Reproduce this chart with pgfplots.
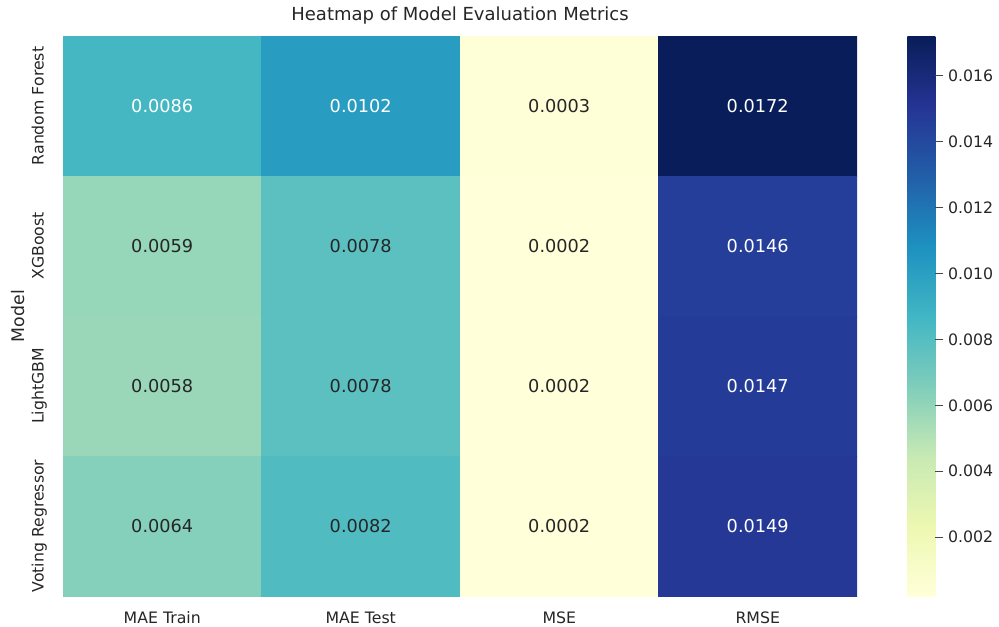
\documentclass[border=0pt]{standalone}
\usepackage{pgfplots}
\pgfplotsset{compat=1.18}
\usepackage{fontspec}
\setmainfont{DejaVu Sans}
\definecolor{txt}{HTML}{262626}
\begin{document}
\begin{tikzpicture}[x=1pt,y=1pt]
\useasboundingbox (0,0) rectangle (749.25,469.5);
\begin{axis}[
  at={(47.25pt,22.5pt)}, anchor=south west,
  width=595.5pt, height=420pt, scale only axis,
  xmin=-0.5, xmax=3.5, ymin=-0.5, ymax=3.5,
  y dir=reverse,
  axis line style={draw=none},
  xtick={0,1,2,3}, xticklabels={MAE Train, MAE Test, MSE, RMSE},
  ytick={0,1,2,3}, yticklabels={Random Forest, XGBoost, LightGBM, Voting Regressor},
  major tick length=0pt,
  tick label style={font=\fontsize{11.8}{14}\selectfont, text=txt},
  xticklabel style={anchor=base, yshift=-20.5pt},
  yticklabel style={xshift=-14.5pt, rotate=90, anchor=base},
  title={Heatmap of Model Evaluation Metrics},
  title style={font=\fontsize{13.5}{16}\selectfont, text=txt, at={(axis description cs:0.5,1)}, anchor=base, yshift=5.8pt},
  ylabel={Model},
  ylabel style={font=\fontsize{13}{16}\selectfont, text=txt, at={(axis description cs:-0.0479,0.5)}, anchor=base},
  colormap={ylgnbu}{rgb255=(255,255,217) rgb255=(237,248,177) rgb255=(199,233,180) rgb255=(127,205,187) rgb255=(65,182,196) rgb255=(29,145,192) rgb255=(34,94,168) rgb255=(37,52,148) rgb255=(8,29,88)},
  point meta min=0.000213, point meta max=0.01721,
  colorbar,
  colorbar/width=21pt,
  colorbar style={
    scale only axis, width=21pt, height=420pt,
    at={(parent axis.north east)}, anchor=north west, xshift=29.25pt,
    axis line style={draw=none},
    ytick={0.002,0.004,0.006,0.008,0.010,0.012,0.014,0.016},
    scaled y ticks=false,
    yticklabel={\pgfmathprintnumber[fixed,precision=3,zerofill,assume math mode=true]{\tick}},
    yticklabel style={font=\fontsize{11.8}{14}\selectfont, text=txt},
    ytick pos=right, yticklabel pos=right,
    tick align=outside, major tick length=6pt,
    major tick style={draw=txt!85, line width=0.9pt},
  },
]
\addplot[matrix plot*, mesh/cols=4, point meta=explicit] table[meta=c] {
x y c
0 0 0.0086
1 0 0.0102
2 0 0.000296
3 0 0.0172
0 1 0.0059
1 1 0.0078
2 1 0.000213
3 1 0.0146
0 2 0.0058
1 2 0.0078
2 2 0.000216
3 2 0.0147
0 3 0.0064
1 3 0.0082
2 3 0.000222
3 3 0.0149
};
\addplot[only marks, mark=none, point meta=explicit symbolic, nodes near coords,
  every node near coord/.style={font=\fontsize{13.3}{16}\selectfont, text=white, anchor=center}] table[meta=l] {
x y l
0 0 0.0086
1 0 0.0102
3 0 0.0172
3 1 0.0146
3 2 0.0147
3 3 0.0149
};
\addplot[only marks, mark=none, point meta=explicit symbolic, nodes near coords,
  every node near coord/.style={font=\fontsize{13.3}{16}\selectfont, text=txt, anchor=center}] table[meta=l] {
x y l
2 0 0.0003
0 1 0.0059
1 1 0.0078
2 1 0.0002
0 2 0.0058
1 2 0.0078
2 2 0.0002
0 3 0.0064
1 3 0.0082
2 3 0.0002
};
\end{axis}
\end{tikzpicture}
\end{document}
